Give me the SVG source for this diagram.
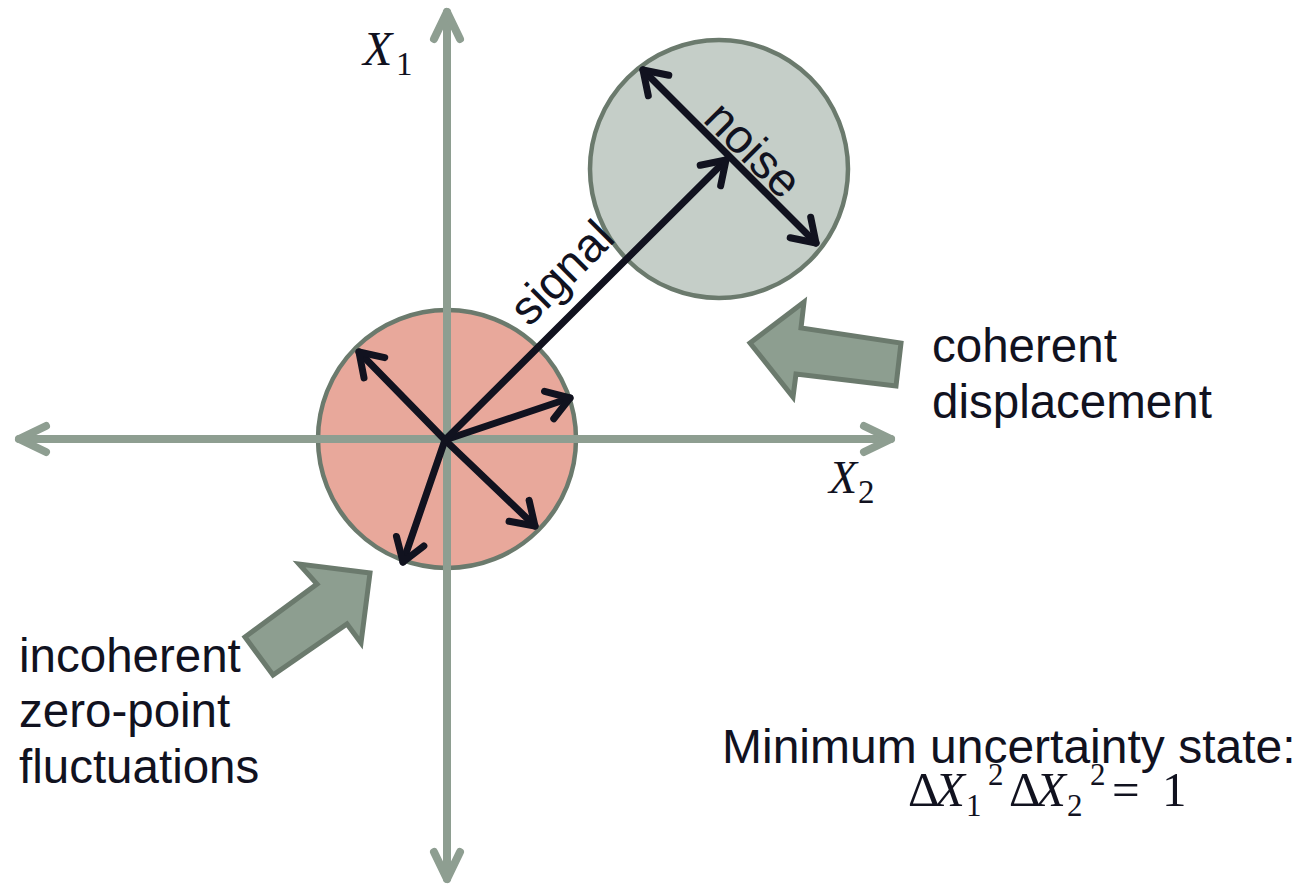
<svg xmlns="http://www.w3.org/2000/svg" width="1302" height="885" viewBox="0 0 1302 885">
  <style>
    .axis { stroke: #8e9e91; stroke-width: 8; stroke-linecap: round; fill: none; }
    .axhead { stroke: #8e9e91; stroke-width: 8; stroke-linecap: round; stroke-linejoin: round; fill: none; }
    .vec { stroke: #11121f; stroke-width: 7; stroke-linecap: round; fill: none; }
    .state { stroke: #6b7a6d; stroke-width: 4.5; }
    .block { fill: #8d9e90; stroke: #6b7a6d; stroke-width: 5; stroke-linejoin: miter; }
    .lbl { font-family: "Liberation Sans", Arial, sans-serif; font-size: 47.5px; fill: #11121f; }
    .math { font-family: "Liberation Serif", "Times New Roman", serif; fill: #11121f; }
    .it { font-style: italic; }
  </style>
  <defs>
    <marker id="axhead" markerUnits="userSpaceOnUse" markerWidth="60" markerHeight="60" viewBox="-40 -30 60 60" refX="0" refY="0" orient="auto-start-reverse" overflow="visible">
      <path class="axhead" d="M-27,-13 L0,0 L-27,13"/>
    </marker>
    <marker id="vhead" markerUnits="userSpaceOnUse" markerWidth="60" markerHeight="60" viewBox="-40 -30 60 60" refX="0" refY="0" orient="auto-start-reverse" overflow="visible">
      <path d="M-22,-14.5 L0,0 L-22,14.5" stroke="#11121f" stroke-width="7" stroke-linecap="round" stroke-linejoin="round" fill="none"/>
    </marker>
  </defs>

  <g id="state-displaced">
    <circle class="state" cx="719" cy="169" r="129" fill="#c5cec8"/>
  </g>
  <g id="state-zero-point">
    <circle class="state" cx="447" cy="439" r="129" fill="#e8a89b"/>
  </g>

  <g id="axes">
    <line class="axis" x1="447" y1="879" x2="447" y2="12" marker-start="url(#axhead)" marker-end="url(#axhead)"/>
    <line class="axis" x1="19" y1="439" x2="891" y2="439" marker-start="url(#axhead)" marker-end="url(#axhead)"/>
  </g>

  <g id="connectors">
    <line class="vec" x1="445" y1="440" x2="359" y2="352" marker-end="url(#vhead)"/>
    <line class="vec" x1="445" y1="440" x2="570" y2="398" marker-end="url(#vhead)"/>
    <line class="vec" x1="445" y1="440" x2="535" y2="526" marker-end="url(#vhead)"/>
    <line class="vec" x1="445" y1="440" x2="403" y2="562" marker-end="url(#vhead)"/>
    <line class="vec" x1="445" y1="440" x2="726" y2="160" marker-end="url(#vhead)"/>
    <line class="vec" x1="643" y1="70" x2="816" y2="243" marker-start="url(#vhead)" marker-end="url(#vhead)"/>
  </g>

  <g id="arrow-incoherent">
    <polygon class="block" points="273,675 245,637 317,584 299,564 370,573 361,643 347,624"/>
  </g>
  <g id="arrow-coherent">
    <polygon class="block" points="750,343 804,302 801,328 901,343 896,386 796,374 793,397"/>
  </g>

  <g id="label-signal">
    <text class="lbl" text-anchor="middle" transform="translate(573,284) rotate(-45)">signal</text>
  </g>
  <g id="label-noise">
    <text class="lbl" text-anchor="middle" transform="translate(742,161) rotate(45)">noise</text>
  </g>
  <g id="label-coherent">
    <text class="lbl" x="932" y="362">coherent</text>
    <text class="lbl" x="932" y="418">displacement</text>
  </g>
  <g id="label-incoherent">
    <text class="lbl" x="19" y="672">incoherent</text>
    <text class="lbl" x="19" y="727">zero-point</text>
    <text class="lbl" x="19" y="783">fluctuations</text>
  </g>
  <g id="label-x1">
    <text class="math it" x="363" y="65" font-size="48">X</text>
    <text class="math" x="396" y="75" font-size="33">1</text>
  </g>
  <g id="label-x2">
    <text class="math it" x="829" y="493" font-size="46">X</text>
    <text class="math" x="858" y="503" font-size="33">2</text>
  </g>
  <g id="label-minimum">
    <text class="lbl" x="722" y="763" style="font-size:48px">Minimum uncertainty state:</text>
    <text class="math" font-size="49">
      <tspan x="908" y="806">Δ</tspan><tspan class="it" x="935" y="806">X</tspan><tspan x="966" y="816" font-size="31">1</tspan><tspan x="988" y="785" font-size="31">2</tspan><tspan x="1009" y="806">Δ</tspan><tspan class="it" x="1036" y="806">X</tspan><tspan x="1067" y="816" font-size="31">2</tspan><tspan x="1090" y="785" font-size="31">2</tspan><tspan x="1112" y="806">=</tspan><tspan x="1162" y="806">1</tspan>
    </text>
  </g>
</svg>
